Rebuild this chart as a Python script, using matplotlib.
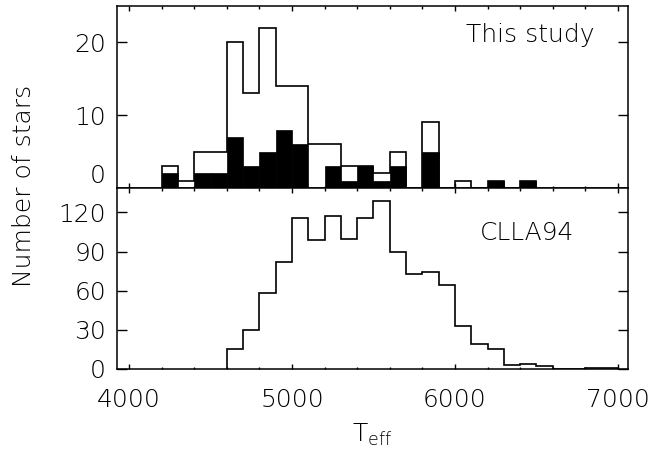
import numpy as np
import matplotlib
matplotlib.use("Agg")
import matplotlib.pyplot as plt
from matplotlib.ticker import MultipleLocator, FixedLocator

# ---- data ----
bin_width = 100
top_left_edges = list(range(4200, 6500, 100))
top_all = [3, 1, 5, 5, 20, 13, 22, 14, 14, 6, 6, 3, 3, 2, 5, 0, 9, 0, 1, 0, 1, 0, 1]
top_black = [2, 0, 2, 2, 7, 3, 5, 8, 6, 0, 3, 1, 3, 1, 3, 0, 5, 0, 0, 0, 1, 0, 1]

bot_left_edges = list(range(4600, 7000, 100))
bot_counts = [15, 30, 58, 82, 116, 99, 117, 100, 116, 129, 90, 73, 74, 64, 33, 19, 15,
              3, 4, 2, 0, 0, 1, 1]

top_yticks = [0, 10, 20]
bot_yticks = [0, 30, 60, 90, 120]
xticks = [4000, 5000, 6000, 7000]
label_top = "This study"
label_bot = "CLLA94"
xlabel = r"T$_{\rm eff}$"
ylabel = "Number of stars"

plt.rcParams['font.family'] = ['DejaVu Sans']
plt.rcParams['font.weight'] = 'light'
plt.rcParams['mathtext.fontset'] = 'dejavusans'
plt.rcParams['mathtext.default'] = 'regular'

fig = plt.figure(figsize=(6.68, 4.53), dpi=100)
L, R = 117/668, 628/668
ytop, ysplit, ybot = 1 - 6/453, 1 - 188/453, 1 - 369/453
ax1 = fig.add_axes([L, ysplit, R - L, ytop - ysplit])
ax2 = fig.add_axes([L, ybot, R - L, ysplit - ybot], sharex=ax1)

lw = 1.2
fs = 18

# top panel
edges_t = np.array(top_left_edges + [top_left_edges[-1] + bin_width])
ax1.stairs(top_all, edges_t, baseline=0, color='black', linewidth=lw, fill=False)
ax1.bar(top_left_edges, top_black, width=bin_width, align='edge', color='black',
        edgecolor='black', linewidth=0.5)

# bottom panel
edges_b = np.array(bot_left_edges + [bot_left_edges[-1] + bin_width])
ax2.stairs(bot_counts, edges_b, baseline=0, color='black', linewidth=lw, fill=False)

ax1.set_xlim(3926, 7062)
ax1.set_ylim(0, 25)
ax2.set_ylim(0, 138.7)

for ax in (ax1, ax2):
    for s in ax.spines.values():
        s.set_linewidth(1.1)
    ax.tick_params(which='both', direction='in', top=True, right=True, width=1.0,
                   labelsize=fs, colors='black')
    ax.tick_params(axis='y', which='major', length=7.5, pad=8)
    ax.tick_params(axis='x', which='major', length=3.6, pad=14)
    ax.tick_params(axis='x', which='minor', length=1.8)
    ax.xaxis.set_major_locator(FixedLocator(xticks))
    ax.xaxis.set_minor_locator(MultipleLocator(200))

ax1.set_yticks(top_yticks)
ax2.set_yticks(bot_yticks)
ax1.tick_params(axis='x', labelbottom=False)
for lab in ax1.get_yticklabels():
    if lab.get_text() == '0':
        lab.set_verticalalignment('bottom')

ax1.text(6065, 20, label_top, fontsize=fs, ha='left', va='baseline')
ax2.text(6155, 98.7, label_bot, fontsize=fs, ha='left', va='baseline')

fig.text((L + R) / 2, 1 - 442/453, xlabel, fontsize=fs, ha='center', va='baseline')
fig.text(24/668, 1 - 186/453, ylabel, fontsize=fs, ha='center', va='center',
         rotation=90)

fig.savefig("out.png", dpi=100)
